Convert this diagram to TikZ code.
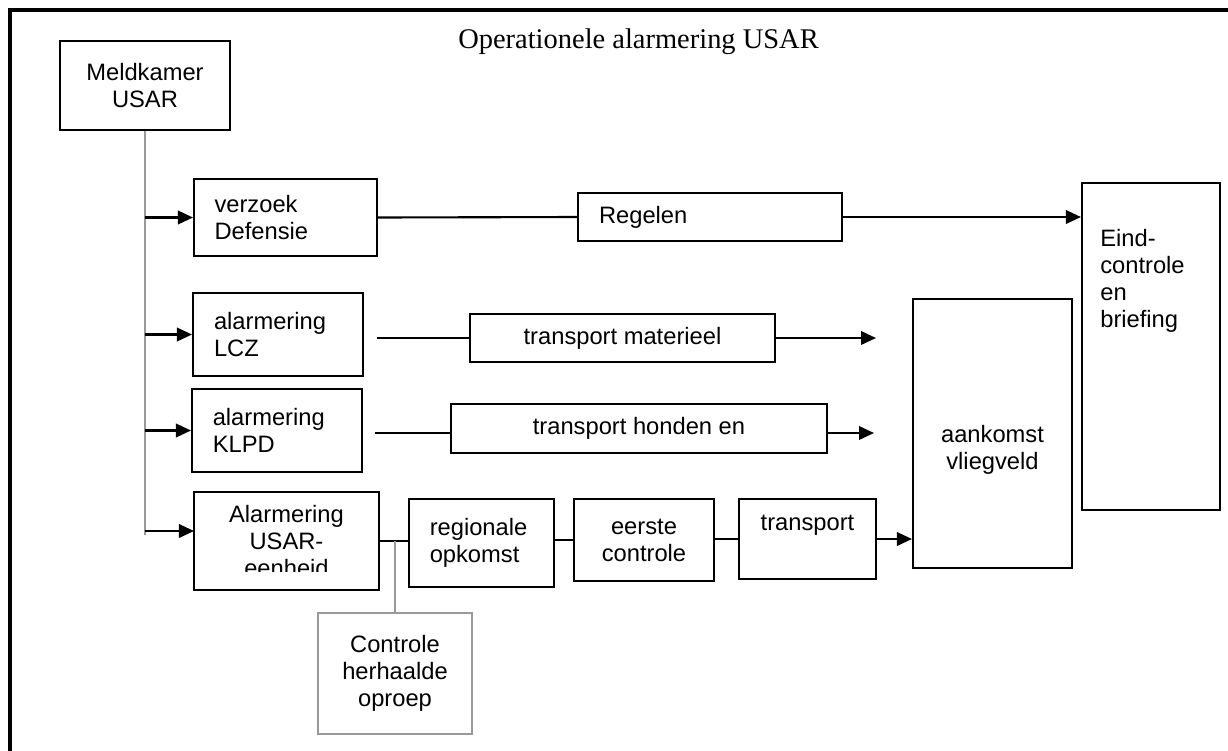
\documentclass[tikz,border=0pt]{standalone}
\usepackage{fontspec}
\setmainfont{Liberation Sans}
\newfontfamily\titlefont{Liberation Serif}
\usetikzlibrary{arrows.meta}

\begin{document}
\begin{tikzpicture}[x=0.02cm, y=-0.02cm,
    every node/.style={font=\fontsize{13.5}{15.4}\selectfont},
    box/.style={draw, line width=1.2pt, inner sep=0pt},
    greybox/.style={box, draw=gray!80},
    conn/.style={line width=1.2pt},
    greyconn/.style={line width=1.1pt, draw=gray!80},
    arrowconn/.style={conn, -{Triangle[length=0.3cm,width=0.27cm]}}
    ]

    \useasboundingbox (0,0) rectangle (1228,751);

    % frame and title
    \draw[line width=2.4pt] (10,760) -- (10,10) -- (1240,10);
    \node[font=\titlefont\fontsize{16.2}{19}\selectfont, anchor=base] (title) at (638.5,48) {Operationele alarmering USAR};

    \node[box, minimum width=3.4cm, minimum height=1.78cm, align=center] (meldkamer) at (145,85.5) {Meldkamer\\USAR};

    \node[box, minimum width=3.66cm, minimum height=1.54cm, text width=2.84cm, align=left] (verzoek) at (285.5,217.5) {verzoek\\Defensie};
    \node[box, minimum width=5.28cm, minimum height=0.96cm, text width=4.44cm, align=left] (regelen) at (710,217) {Regelen};
    \node[box, minimum width=2.76cm, minimum height=6.54cm,
        label={[anchor=north west, align=left, inner sep=0pt, xshift=0.38cm, yshift=-0.94cm]north west:Eind-\\controle\\en\\briefing}] (eind) at (1151,346.5) {};

    \node[box, minimum width=3.4cm, minimum height=1.66cm, text width=2.56cm, align=left] (lcz) at (278,334.5) {alarmering\\LCZ};
    \node[box, minimum width=6.1cm, minimum height=0.96cm, align=center] (materieel) at (622.5,338) {transport materieel};

    \node[box, minimum width=3.4cm, minimum height=1.66cm, text width=2.57cm, align=left] (klpd) at (277,430.5) {alarmering\\KLPD};
    \node[box, minimum width=7.52cm, minimum height=0.98cm, align=center] (honden) at (639,428.5) {transport honden en};

    \node[box, minimum width=3.18cm, minimum height=5.38cm,
        label={[align=center, yshift=-0.33cm]center:aankomst\\vliegveld}] (aankomst) at (992.5,433.5) {};

    % bottom row, last line of the text is cut off
    \begin{scope}
        \clip (180,480) rectangle (400,571);
        \node[box, draw=none, minimum width=3.66cm, minimum height=1.92cm, align=center] (usar) at (286.5,541) {Alarmering\\USAR-\\eenheid};
    \end{scope}
    \draw[box] (usar.south west) rectangle (usar.north east);

    \node[box, minimum width=2.9cm, minimum height=1.76cm, text width=2.07cm, align=left] (regionaal) at (481.5,543) {regionale\\opkomst};
    \node[box, minimum width=2.8cm, minimum height=1.64cm, align=center] (eerste) at (644,540) {eerste\\controle};
    \node[box, minimum width=2.74cm, minimum height=1.6cm,
        label={[anchor=north, inner sep=0pt, yshift=-0.34cm]north:transport}] (transport) at (807.5,539) {};

    \node[greybox, minimum width=3.08cm, minimum height=2.42cm, align=center] (controle) at (395,673.5) {Controle\\herhaalde\\oproep};

    \coordinate (spine end) at (145,535);
    \coordinate (usar in) at ([yshift=0.2cm]usar.west);
    \coordinate (lcz out) at (377,338);
    \coordinate (lcz end) at (876,338);
    \coordinate (klpd out) at (375,433);
    \coordinate (klpd end) at (874,433);

    \draw[greyconn] (meldkamer.south) -- (spine end);
    \draw[arrowconn] (meldkamer.south |- verzoek.west) -- (verzoek.west);
    \draw[arrowconn] (meldkamer.south |- lcz.west) -- (lcz.west);
    \draw[arrowconn] (meldkamer.south |- klpd.west) -- (klpd.west);
    \draw[arrowconn] (meldkamer.south |- usar in) -- (usar in);

    \draw[conn] (verzoek.east) -- (regelen.west);
    \draw[arrowconn] (regelen.east) -- (regelen.east -| eind.west);

    \draw[conn] (lcz out) -- (lcz out -| materieel.west);
    \draw[arrowconn] (lcz out -| materieel.east) -- (lcz end);

    \draw[conn] (klpd out) -- (klpd out -| honden.west);
    \draw[arrowconn] (klpd out -| honden.east) -- (klpd end);

    \draw[conn] (usar.east) -- (usar.east -| regionaal.west);
    \draw[conn] (regionaal.east |- eerste.west) -- (eerste.west);
    \draw[conn] (eerste.east |- transport.west) -- (transport.west);
    \draw[arrowconn] (transport.east) -- (transport.east -| aankomst.west);

    \draw[greyconn] (controle.north |- usar.east) -- (controle.north);
\end{tikzpicture}
\end{document}
